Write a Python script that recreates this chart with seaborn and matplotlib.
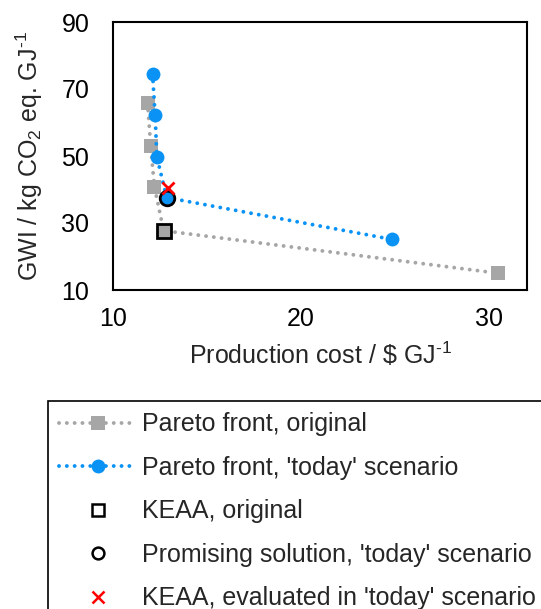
import matplotlib
matplotlib.use("Agg")
import matplotlib.pyplot as plt
import seaborn as sns
from matplotlib.lines import Line2D

# Pareto front of the original optimisation (cost in $/GJ, GWI in kg CO2 eq./GJ)
orig_cost = [11.84, 12.0, 12.2, 12.69, 30.48]
orig_gwi = [65.9, 53.1, 40.8, 27.7, 15.0]

# Pareto front re-optimised for the 'today' scenario
today_cost = [12.1, 12.24, 12.33, 12.85, 24.84]
today_gwi = [74.6, 62.2, 49.8, 37.6, 25.1]

# Highlighted single solutions
keaa_cost = [12.69]
keaa_gwi = [27.7]
promising_cost = [12.85]
promising_gwi = [37.6]
keaa_today_cost = [12.9]
keaa_today_gwi = [40.5]

x_ticks = [10, 20, 30]
y_ticks = [10, 30, 50, 70, 90]

legend_labels = [
    "Pareto front, original",
    "Pareto front, 'today' scenario",
    "KEAA, original",
    "Promising solution, 'today' scenario",
    "KEAA, evaluated in 'today' scenario",
]

GRAY = "#A6A6A6"
BLUE = "#0A93F5"
RED = "#FF0000"

sns.set_style("white")
plt.rcParams["font.family"] = ["Liberation Sans", "DejaVu Sans"]
plt.rcParams["mathtext.fontset"] = "custom"
plt.rcParams["mathtext.rm"] = "Liberation Sans"
plt.rcParams["mathtext.it"] = "Liberation Sans"
plt.rcParams["mathtext.default"] = "regular"

FS = 18
dotted = (0, (0.01, 2.0))

fig = plt.figure(figsize=(5.41, 6.09), dpi=100)
ax = fig.add_axes([113 / 541, 1 - 290 / 609, (527 - 113) / 541, (290 - 22) / 609])

sns.lineplot(x=orig_cost, y=orig_gwi, sort=False, estimator=None, ax=ax,
             color=GRAY, lw=2.8, linestyle=dotted, dash_capstyle="round",
             marker="s", markersize=9.5, markeredgewidth=0, zorder=2)
sns.lineplot(x=today_cost, y=today_gwi, sort=False, estimator=None, ax=ax,
             color=BLUE, lw=2.8, linestyle=dotted, dash_capstyle="round",
             marker="o", markersize=10, markeredgewidth=0, zorder=3)
sns.lineplot(x=keaa_cost, y=keaa_gwi, estimator=None, ax=ax, linestyle="none",
             marker="s", markersize=10, markerfacecolor="none",
             markeredgecolor="black", markeredgewidth=2, zorder=4)
sns.lineplot(x=promising_cost, y=promising_gwi, estimator=None, ax=ax,
             linestyle="none", marker="o", markersize=10.5,
             markerfacecolor="none", markeredgecolor="black",
             markeredgewidth=2, zorder=5)
sns.lineplot(x=keaa_today_cost, y=keaa_today_gwi, estimator=None, ax=ax,
             linestyle="none", marker="x", markersize=9, color=RED,
             markeredgecolor=RED, markeredgewidth=2, zorder=6)

ax.set_xlim(10, 32)
ax.set_ylim(10, 90)
ax.set_xticks(x_ticks)
ax.set_yticks(y_ticks)
ax.tick_params(direction="in", length=7, width=1.2, labelsize=FS,
               colors="black")
ax.tick_params(axis="y", pad=17)
ax.tick_params(axis="x", pad=12)
for s in ax.spines.values():
    s.set_visible(True)
    s.set_color("black")
    s.set_linewidth(1.5)

ax.set_xlabel(r"Production cost / \$ GJ$^{\text{-1}}$", fontsize=FS, labelpad=7)
ax.set_ylabel(r"GWI / kg CO$_2$ eq. GJ$^{\text{-1}}$", fontsize=FS, labelpad=12)

handles = [
    Line2D([], [], color=GRAY, lw=2.8, linestyle=dotted, dash_capstyle="round",
           marker="s", markersize=9.5, markeredgewidth=0),
    Line2D([], [], color=BLUE, lw=2.8, linestyle=dotted, dash_capstyle="round",
           marker="o", markersize=10, markeredgewidth=0),
    Line2D([], [], linestyle="none", marker="s", markersize=8.5,
           markerfacecolor="none", markeredgecolor="black", markeredgewidth=1.8),
    Line2D([], [], linestyle="none", marker="o", markersize=8.5,
           markerfacecolor="none", markeredgecolor="black", markeredgewidth=1.8),
    Line2D([], [], linestyle="none", marker="x", markersize=8.5,
           color=RED, markeredgewidth=1.8),
]
leg = fig.legend(handles, legend_labels, loc="upper left",
                 bbox_to_anchor=(48 / 541, 1 - 401 / 609),
                 fontsize=FS, frameon=True, fancybox=False, framealpha=1,
                 edgecolor="black", borderpad=0.45, borderaxespad=0,
                 handlelength=3.1, handletextpad=0.2, labelspacing=0.78)
leg.get_frame().set_linewidth(1.2)

fig.savefig("out.png", dpi=100, facecolor="white")
